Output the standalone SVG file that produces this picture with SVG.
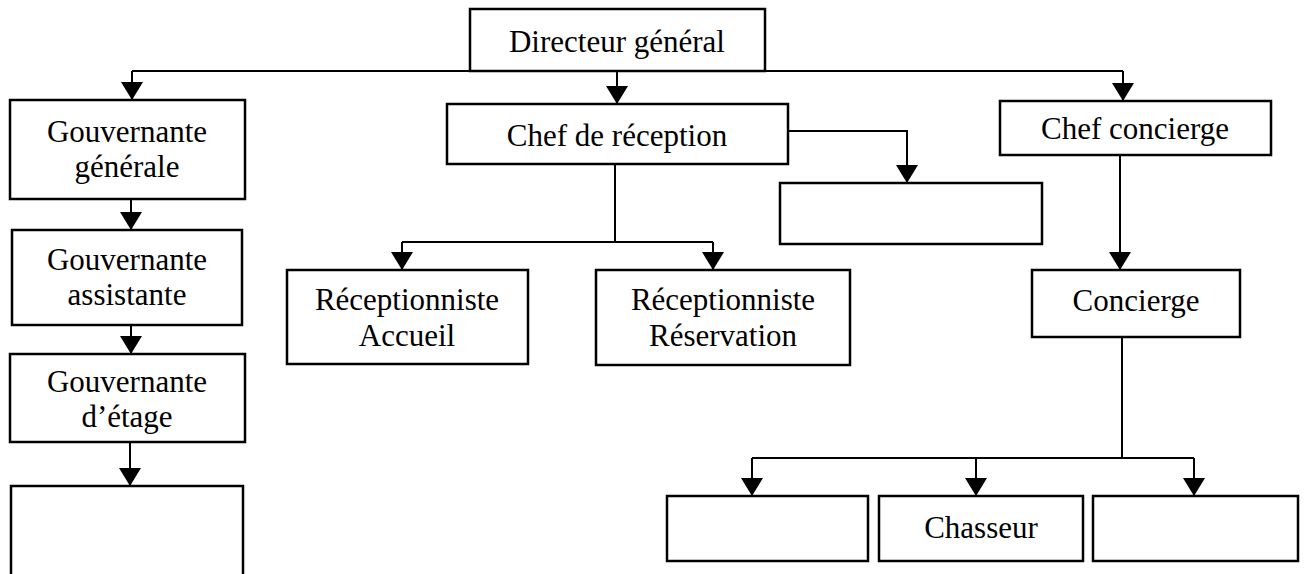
<svg xmlns="http://www.w3.org/2000/svg" width="1305" height="574" viewBox="0 0 1305 574">
<defs>
<marker id="ah" viewBox="0 0 18 22" refX="18" refY="11" markerWidth="18" markerHeight="22" markerUnits="userSpaceOnUse" orient="auto">
<path d="M0,0 L18,11 L0,22 Z" fill="#000"/>
</marker>
<style>
.box{fill:#fff;stroke:#000;stroke-width:2.5}
.c{fill:none;stroke:#000;stroke-width:2}
.a{marker-end:url(#ah)}
text{font-family:"Liberation Serif","Times New Roman",serif;font-size:31px;fill:#000;text-anchor:middle}
</style>
</defs>
<rect width="1305" height="574" fill="#fff"/>
<g id="connectors">
<path class="c" d="M132,71 H1123"/>
<path class="c a" d="M132,71 V100"/>
<path class="c a" d="M617,71 V104"/>
<path class="c a" d="M1123,71 V101"/>
<path class="c a" d="M131,199 V230"/>
<path class="c a" d="M131,325 V354"/>
<path class="c a" d="M130,442 V486"/>
<path class="c a" d="M788,131 H907 V183"/>
<path class="c" d="M615,164 V242"/>
<path class="c" d="M402,242 H713"/>
<path class="c a" d="M402,242 V270"/>
<path class="c a" d="M713,242 V270"/>
<path class="c a" d="M1120,155 V270"/>
<path class="c" d="M1122,337 V458"/>
<path class="c" d="M752,458 H1194"/>
<path class="c a" d="M752,458 V496"/>
<path class="c a" d="M976,458 V496"/>
<path class="c a" d="M1194,458 V496"/>
</g>
<g id="n-directeur"><rect class="box" x="470" y="9" width="295" height="62"/><text x="617" y="52">Directeur général</text></g>
<g id="n-gouv-generale"><rect class="box" x="10" y="100" width="235" height="99"/><text x="127" y="142">Gouvernante</text><text x="127" y="177">générale</text></g>
<g id="n-gouv-assistante"><rect class="box" x="12" y="230" width="230" height="95"/><text x="127" y="270">Gouvernante</text><text x="127" y="305">assistante</text></g>
<g id="n-gouv-etage"><rect class="box" x="10" y="354" width="235" height="88"/><text x="127" y="392">Gouvernante</text><text x="127" y="427">d’étage</text></g>
<g id="n-gouv-vide"><rect class="box" x="11" y="486" width="232" height="100"/></g>
<g id="n-chef-reception"><rect class="box" x="447" y="104" width="341" height="60"/><text x="617" y="146">Chef de réception</text></g>
<g id="n-reception-vide"><rect class="box" x="780" y="183" width="262" height="61"/></g>
<g id="n-accueil"><rect class="box" x="287" y="270" width="241" height="94"/><text x="407" y="310">Réceptionniste</text><text x="407" y="346">Accueil</text></g>
<g id="n-reservation"><rect class="box" x="596" y="270" width="254" height="95"/><text x="723" y="310">Réceptionniste</text><text x="723" y="346">Réservation</text></g>
<g id="n-chef-concierge"><rect class="box" x="1000" y="101" width="271" height="54"/><text x="1135" y="139">Chef concierge</text></g>
<g id="n-concierge"><rect class="box" x="1032" y="270" width="208" height="67"/><text x="1136" y="311">Concierge</text></g>
<g id="n-concierge-vide1"><rect class="box" x="667" y="496" width="201" height="65"/></g>
<g id="n-chasseur"><rect class="box" x="879" y="496" width="204" height="65"/><text x="981" y="538">Chasseur</text></g>
<g id="n-concierge-vide2"><rect class="box" x="1093" y="496" width="205" height="65"/></g>
</svg>
